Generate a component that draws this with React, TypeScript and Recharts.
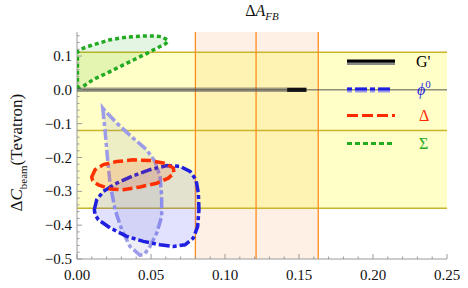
import React from "react";
import {
  ComposedChart,
  XAxis,
  YAxis,
  Scatter,
  ReferenceArea,
  ReferenceLine,
} from "recharts";

const FONT = '"Liberation Serif", "DejaVu Serif", serif';
const FRAME = "#9a9a9a";

// axis ticks (minor every 0.01 / 0.02, labelled majors)
const xTicks = [
  0, 0.01, 0.02, 0.03, 0.04, 0.05, 0.06, 0.07, 0.08, 0.09, 0.1, 0.11, 0.12,
  0.13, 0.14, 0.15, 0.16, 0.17, 0.18, 0.19, 0.2, 0.21, 0.22, 0.23, 0.24, 0.25,
];
const xMajor = [0, 0.05, 0.1, 0.15, 0.2, 0.25];
const xLabels = ["0.00", "0.05", "0.10", "0.15", "0.20", "0.25"];

const yTicks = [
  -0.5, -0.48, -0.46, -0.44, -0.42, -0.4, -0.38, -0.36, -0.34, -0.32, -0.3,
  -0.28, -0.26, -0.24, -0.22, -0.2, -0.18, -0.16, -0.14, -0.12, -0.1, -0.08,
  -0.06, -0.04, -0.02, 0, 0.02, 0.04, 0.06, 0.08, 0.1, 0.12, 0.14, 0.16,
];
const yMajor = [-0.5, -0.4, -0.3, -0.2, -0.1, 0, 0.1];
const yLabels = ["\u22120.5", "\u22120.4", "\u22120.3", "\u22120.2", "\u22120.1", "0.0", "0.1"];

// experimental bands
const cBeamBand = [-0.35, 0.111];
const afbBand = [0.08, 0.163];
const cBeamLines = [0.111, -0.12, -0.35];
const afbLines = [0.08, 0.121, 0.163];

// model regions
const sigmaRegion = [
  { x: 0.0003, y: 0.003 }, { x: 0.0003, y: 0.059 }, { x: 0.0003, y: 0.112 },
  { x: 0.0041, y: 0.123 }, { x: 0.0108, y: 0.133 }, { x: 0.0223, y: 0.148 },
  { x: 0.0338, y: 0.156 }, { x: 0.0446, y: 0.159 }, { x: 0.0527, y: 0.159 },
  { x: 0.0574, y: 0.157 }, { x: 0.0615, y: 0.146 }, { x: 0.0601, y: 0.137 },
  { x: 0.0561, y: 0.128 }, { x: 0.0473, y: 0.108 }, { x: 0.0338, y: 0.079 },
  { x: 0.0223, y: 0.054 }, { x: 0.0108, y: 0.03 }, { x: 0.0041, y: 0.01 },
  { x: 0.0007, y: 0.003 },
];

const phiWideRegion = [
  { x: 0.0174, y: -0.054 }, { x: 0.0189, y: -0.118 }, { x: 0.0205, y: -0.197 },
  { x: 0.0223, y: -0.276 }, { x: 0.0257, y: -0.354 }, { x: 0.0302, y: -0.413 },
  { x: 0.0358, y: -0.463 }, { x: 0.0426, y: -0.489 }, { x: 0.0459, y: -0.484 },
  { x: 0.0493, y: -0.463 }, { x: 0.0539, y: -0.423 }, { x: 0.0572, y: -0.374 },
  { x: 0.0572, y: -0.315 }, { x: 0.0561, y: -0.256 }, { x: 0.0527, y: -0.212 },
  { x: 0.0471, y: -0.177 }, { x: 0.038, y: -0.143 }, { x: 0.0268, y: -0.098 },
  { x: 0.0196, y: -0.065 },
];

const phiRegion = [
  { x: 0.0117, y: -0.354 }, { x: 0.0133, y: -0.325 }, { x: 0.0178, y: -0.3 },
  { x: 0.0268, y: -0.276 }, { x: 0.038, y: -0.254 }, { x: 0.0493, y: -0.236 },
  { x: 0.0606, y: -0.224 }, { x: 0.0696, y: -0.226 }, { x: 0.0764, y: -0.241 },
  { x: 0.0804, y: -0.266 }, { x: 0.082, y: -0.305 }, { x: 0.0824, y: -0.354 },
  { x: 0.0815, y: -0.404 }, { x: 0.0786, y: -0.438 }, { x: 0.073, y: -0.458 },
  { x: 0.0651, y: -0.463 }, { x: 0.0561, y: -0.458 }, { x: 0.0448, y: -0.448 },
  { x: 0.0336, y: -0.433 }, { x: 0.0223, y: -0.408 }, { x: 0.0144, y: -0.384 },
  { x: 0.0122, y: -0.369 },
];

const deltaRegion = [
  { x: 0.0099, y: -0.258 }, { x: 0.0122, y: -0.236 }, { x: 0.0178, y: -0.221 },
  { x: 0.0268, y: -0.212 }, { x: 0.038, y: -0.207 }, { x: 0.0493, y: -0.209 },
  { x: 0.0595, y: -0.217 }, { x: 0.0651, y: -0.231 }, { x: 0.0655, y: -0.246 },
  { x: 0.0617, y: -0.261 }, { x: 0.0539, y: -0.276 }, { x: 0.0426, y: -0.287 },
  { x: 0.0313, y: -0.295 }, { x: 0.0223, y: -0.293 }, { x: 0.0144, y: -0.281 },
  { x: 0.0106, y: -0.268 },
];

const gPrimeWide = [{ x: 0, y: 0 }, { x: 0.155, y: 0 }];
const gPrimeCore = [{ x: 0.142, y: 0 }, { x: 0.155, y: 0 }];

const legendNames = ["G'", "\u03d5", "\u0394", "\u03a3"];

const isIn = (list: number[], v: number) =>
  list.findIndex((m) => Math.abs(m - v) < 1e-9);

// inward Mathematica-style frame ticks
function frameTick(props: any, side: "bottom" | "top" | "left" | "right") {
  const { x, y, payload } = props;
  const v = payload.value;
  const horiz = side === "bottom" || side === "top";
  const idx = isIn(horiz ? xMajor : yMajor, v);
  const len = idx >= 0 ? 5 : 2.5;
  let line;
  if (side === "bottom") line = <line x1={x} x2={x} y1={y} y2={y - len} />;
  else if (side === "top") line = <line x1={x} x2={x} y1={y} y2={y + len} />;
  else if (side === "left") line = <line x1={x} x2={x + len} y1={y} y2={y} />;
  else line = <line x1={x} x2={x - len} y1={y} y2={y} />;
  const txt = { fontFamily: FONT, fontSize: 15 };
  return (
    <g>
      <g stroke={FRAME} strokeWidth={1}>{line}</g>
      {side === "bottom" && idx >= 0 && (
        <text x={x} y={y + 21} textAnchor="middle" style={txt} fill="#111">
          {xLabels[idx]}
        </text>
      )}
      {side === "left" && idx >= 0 && (
        <text x={x - 5} y={y + 5} textAnchor="end" style={txt} fill="#111">
          {yLabels[idx]}
        </text>
      )}
    </g>
  );
}

const closedShape = (style: any) => (props: any) => {
  const pts = props.points || [];
  const d = pts.map((p: any, i: number) => `${i ? "L" : "M"}${p.x},${p.y}`).join("") + "Z";
  return <path d={d} {...style} />;
};

const noDot = () => <g />;

export default function App() {
  return (
    <div style={{ position: "absolute", left: 0, top: 0, width: 468, height: 288, background: "#fff" }}>
      <ComposedChart width={468} height={288} margin={{ top: 32, right: 21, bottom: 0, left: 0 }}>
        <XAxis
          xAxisId="b"
          dataKey="x"
          type="number"
          domain={[0, 0.25]}
          allowDataOverflow
          ticks={xTicks}
          interval={0}
          height={29}
          tickSize={0}
          tickMargin={0}
          tickLine={false}
          axisLine={{ stroke: FRAME }}
          tick={(p: any) => frameTick(p, "bottom")}
        />
        <XAxis
          xAxisId="t"
          orientation="top"
          type="number"
          domain={[0, 0.25]}
          allowDataOverflow
          ticks={xTicks}
          interval={0}
          height={0}
          tickSize={0}
          tickMargin={0}
          tickLine={false}
          axisLine={{ stroke: FRAME }}
          tick={(p: any) => frameTick(p, "top")}
        />
        <YAxis
          yAxisId="l"
          dataKey="y"
          type="number"
          domain={[-0.5, 0.171]}
          allowDataOverflow
          ticks={yTicks}
          interval={0}
          width={77}
          tickSize={0}
          tickMargin={0}
          tickLine={false}
          axisLine={{ stroke: FRAME }}
          tick={(p: any) => frameTick(p, "left")}
        />
        <YAxis
          yAxisId="r"
          orientation="right"
          type="number"
          domain={[-0.5, 0.171]}
          allowDataOverflow
          ticks={yTicks}
          interval={0}
          width={0}
          tickSize={0}
          tickMargin={0}
          tickLine={false}
          axisLine={{ stroke: FRAME }}
          tick={(p: any) => frameTick(p, "right")}
        />

        {/* bands */}
        <ReferenceArea xAxisId="b" yAxisId="l" x1={afbBand[0]} x2={afbBand[1]} fill="#ff8c3a" fillOpacity={0.13} stroke="none" />
        <ReferenceArea xAxisId="b" yAxisId="l" y1={cBeamBand[0]} y2={cBeamBand[1]} fill="#ffff00" fillOpacity={0.22} stroke="none" />

        {cBeamLines.map((v) => (
          <ReferenceLine key={"h" + v} xAxisId="b" yAxisId="l" y={v} stroke="#c9b52c" strokeWidth={1.5} />
        ))}
        {afbLines.map((v) => (
          <ReferenceLine key={"v" + v} xAxisId="b" yAxisId="l" x={v} stroke="#ff8c1e" strokeWidth={1.3} />
        ))}
        <ReferenceLine xAxisId="b" yAxisId="l" y={0} stroke="#555" strokeWidth={1} />

        {/* regions */}
        <Scatter
          xAxisId="b" yAxisId="l" data={phiWideRegion} isAnimationActive={false} shape={noDot}
          line={closedShape({ fill: "#7070b8", fillOpacity: 0.12, stroke: "#9c9ce8", strokeWidth: 3.5, strokeDasharray: "11 3 4 3" })}
        />
        <Scatter
          xAxisId="b" yAxisId="l" data={phiRegion} isAnimationActive={false} shape={noDot}
          line={closedShape({ fill: "#3a3aff", fillOpacity: 0.15, stroke: "#1f1fe0", strokeWidth: 3.5, strokeDasharray: "11 3 4 3" })}
        />
        <Scatter
          xAxisId="b" yAxisId="l" data={deltaRegion} isAnimationActive={false} shape={noDot}
          line={closedShape({ fill: "#ff5000", fillOpacity: 0.16, stroke: "#ff3000", strokeWidth: 3.5, strokeDasharray: "10 4" })}
        />
        <Scatter
          xAxisId="b" yAxisId="l" data={sigmaRegion} isAnimationActive={false} shape={noDot}
          line={closedShape({ fill: "#20b020", fillOpacity: 0.12, stroke: "#22aa22", strokeWidth: 3.5, strokeDasharray: "4 3" })}
        />
        <Scatter
          xAxisId="b" yAxisId="l" data={gPrimeWide} isAnimationActive={false} shape={noDot}
          line={{ stroke: "#555", strokeOpacity: 0.55, strokeWidth: 4.5 }}
        />
        <Scatter
          xAxisId="b" yAxisId="l" data={gPrimeCore} isAnimationActive={false} shape={noDot}
          line={{ stroke: "#111", strokeWidth: 4 }}
        />
      </ComposedChart>

      {/* title */}
      <div style={{ position: "absolute", left: 212, width: 100, top: 2, textAlign: "center", fontFamily: FONT, fontSize: 16, color: "#111" }}>
        {"\u0394"}<i>A</i><sub style={{ fontSize: 11 }}><i>FB</i></sub>
      </div>

      {/* y label */}
      <div
        style={{
          position: "absolute", left: 20, top: 150, width: 200, marginLeft: -100, marginTop: -10,
          textAlign: "center", transform: "rotate(-90deg)", fontFamily: FONT, fontSize: 17, color: "#111", whiteSpace: "nowrap", lineHeight: "20px",
        }}
      >
        {"\u0394"}<i>C</i><sub style={{ fontSize: 11 }}>beam</sub>(Tevatron)
      </div>

      {/* legend */}
      <svg width={468} height={288} style={{ position: "absolute", left: 0, top: 0, pointerEvents: "none" }}>
        <line x1={347} x2={395} y1={63.5} y2={63.5} stroke="#888" strokeWidth={3} />
        <line x1={347} x2={395} y1={61} y2={61} stroke="#000" strokeWidth={3} />
        <text x={416} y={67} style={{ fontFamily: FONT, fontSize: 16 }} fill="#000">{legendNames[0]}</text>

        <line x1={347} x2={393} y1={90} y2={90} stroke="#9c9ce8" strokeWidth={5} strokeDasharray="5 3 12 3" />
        <line x1={347} x2={393} y1={89} y2={89} stroke="#1f1fe0" strokeWidth={3} strokeDasharray="5 3 12 3" />
        <text x={417} y={95} style={{ fontFamily: FONT, fontSize: 16, fontStyle: "italic" }} fill="#1f1fe0">
          {legendNames[1]}<tspan dy={-7} style={{ fontSize: 11, fontStyle: "normal" }}>0</tspan>
        </text>

        <line x1={347} x2={395} y1={115.5} y2={115.5} stroke="#ff2a00" strokeWidth={3} strokeDasharray="11 4" />
        <text x={419} y={121} style={{ fontFamily: FONT, fontSize: 16 }} fill="#ff2a00">{legendNames[2]}</text>

        <line x1={347} x2={395} y1={143.5} y2={143.5} stroke="#22aa22" strokeWidth={3} strokeDasharray="5 3" />
        <text x={419} y={149} style={{ fontFamily: FONT, fontSize: 16 }} fill="#22aa22">{legendNames[3]}</text>
      </svg>
    </div>
  );
}
